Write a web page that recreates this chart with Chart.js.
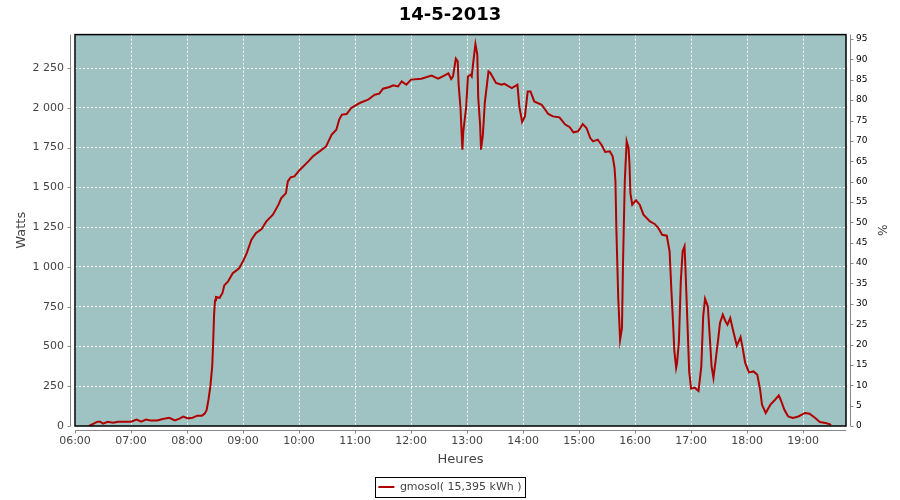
<!DOCTYPE html>
<html>
<head>
<meta charset="utf-8">
<script src="https://cdn.jsdelivr.net/npm/chart.js@4/dist/chart.umd.min.js"></script>
<style>
  html, body { margin: 0; padding: 0; background: #fff; }
  #wrap { width: 900px; height: 500px; }
</style>
</head>
<body>
<div id="wrap"><canvas id="graphe"></canvas></div>
<script>
// Production du 14-5-2013
const titre = '14-5-2013'
const nomSerie = 'gmosol( 15,395 kWh )'
const puissanceMax = 2560 // W pour 100 %

const heures = [
  '06:15','06:20','06:24','06:27','06:30','06:35','06:41','06:46','06:53','07:00',
  '07:06','07:11','07:16','07:21','07:28','07:34','07:41','07:47','07:52','07:56',
  '08:01','08:06','08:11','08:16','08:19','08:21','08:23','08:25','08:26','08:27',
  '08:28','08:29','08:30','08:31','08:35','08:38','08:40','08:44','08:49','08:53',
  '08:56','09:00','09:04','09:09','09:14','09:20','09:25','09:32','09:38','09:41',
  '09:46','09:48','09:51','09:55','10:01','10:10','10:15','10:22','10:29','10:35',
  '10:40','10:43','10:46','10:51','10:56','11:05','11:14','11:21','11:26','11:30',
  '11:37','11:41','11:46','11:50','11:55','12:00','12:11','12:22','12:29','12:34',
  '12:40','12:43','12:45','12:48','12:50','12:51','12:53','12:55','12:56','12:59',
  '13:01','13:04','13:05','13:07','13:09','13:11','13:12','13:14','13:15','13:17',
  '13:19','13:23','13:25','13:31','13:37','13:40','13:48','13:54','13:56','13:59',
  '14:02','14:05','14:08','14:12','14:20','14:27','14:32','14:39','14:45','14:50',
  '14:54','14:59','15:04','15:08','15:12','15:15','15:20','15:24','15:28','15:33',
  '15:36','15:38','15:39','15:40','15:42','15:44','15:46','15:47','15:49','15:51',
  '15:53','15:54','15:55','15:57','16:01','16:05','16:09','16:16','16:21','16:25',
  '16:29','16:34','16:37','16:39','16:41','16:42','16:44','16:45','16:47','16:49',
  '16:51','16:53','16:54','16:56','16:58','17:00','17:04','17:08','17:11','17:13',
  '17:15','17:18','17:20','17:22','17:24','17:26','17:29','17:31','17:34','17:37',
  '17:39','17:42','17:44','17:47','17:49','17:51','17:53','17:55','17:58','18:02',
  '18:07','18:11','18:14','18:16','18:20','18:25','18:30','18:34','18:36','18:40',
  '18:44','18:49','18:55','19:02','19:07','19:13','19:18','19:24','19:29','19:30'
]
const watts = [
  0,15,27,27,15,27,20,27,27,27,
  40,27,40,35,35,44,52,35,46,59,
  48,52,65,65,78,99,165,249,312,375,
  520,700,790,811,806,836,885,909,960,978,
  993,1035,1087,1171,1213,1238,1286,1328,1391,1433,
  1464,1537,1563,1569,1611,1663,1695,1726,1757,1831,
  1862,1925,1957,1961,1999,2030,2051,2082,2089,2120,
  2131,2141,2134,2166,2145,2177,2183,2202,2183,2198,
  2216,2181,2198,2309,2292,2145,1999,1737,1852,1999,
  2198,2208,2198,2302,2400,2334,2062,1894,1737,1831,
  2030,2229,2219,2156,2145,2151,2124,2145,2009,1911,
  1946,2103,2103,2040,2019,1961,1946,1940,1896,1878,
  1846,1852,1898,1873,1810,1789,1800,1768,1722,1726,
  1695,1622,1537,1234,805,542,616,993,1537,1789,
  1747,1653,1464,1391,1418,1391,1328,1286,1270,1244,
  1202,1196,1098,846,616,480,365,396,532,909,
  1098,1129,993,668,343,235,241,220,375,689,
  800,752,563,375,302,396,542,647,700,657,
  637,679,626,553,505,532,559,500,396,337,
  343,322,228,134,82,134,165,192,165,102,
  60,50,60,82,77,50,25,19,10,6
]

// bornes des axes
const debut = '06:00'
const fin = '19:46'
const wattsMax = 2460
const pasWatts = 250
const pasPourcent = 5
const pasMinutes = 60

const enMinutes = h => { const [hh, mm] = h.split(':').map(Number); return hh * 60 + mm }
const formatHeure = m => String(Math.floor(m / 60)).padStart(2, '0') + ':' + String(m % 60).padStart(2, '0')
const formatWatts = v => String(v).replace(/\B(?=(\d{3})+(?!\d))/g, ' ')

// graduations regulieres entre min et max
const graduations = (min, max, pas) => {
  const t = []
  for (let v = min; v <= max + 1e-9; v += pas) t.push({ value: v })
  return t
}

const points = heures.map((h, i) => ({ x: enMinutes(h), y: watts[i] }))

const couleurFond = 'rgb(159,195,194)'
const gris = '#888'
const texte = '#444'
const police = 'DejaVu Sans'

// fond du graphe, cadre noir, axes gris decales
const cadre = {
  id: 'cadre',
  beforeDraw(chart) {
    const { ctx, chartArea: a } = chart
    ctx.save()
    ctx.fillStyle = couleurFond
    ctx.fillRect(a.left, a.top, a.right - a.left, a.bottom - a.top)
    ctx.restore()
  },
  afterDraw(chart) {
    const { ctx, chartArea: a } = chart
    const sx = chart.scales.x, sy = chart.scales.y, sp = chart.scales.pct
    ctx.save()
    ctx.strokeStyle = '#000'
    ctx.lineWidth = 1.5
    ctx.strokeRect(a.left, a.top, a.right - a.left, a.bottom - a.top)

    ctx.strokeStyle = gris
    ctx.lineWidth = 1
    ctx.beginPath()
    ctx.moveTo(a.left - 4.5, a.top); ctx.lineTo(a.left - 4.5, a.bottom)
    ctx.moveTo(a.left, a.bottom + 4.5); ctx.lineTo(a.right, a.bottom + 4.5)
    ctx.moveTo(a.right + 4.5, a.top); ctx.lineTo(a.right + 4.5, a.bottom)
    sy.ticks.forEach(t => {
      const y = Math.round(sy.getPixelForValue(t.value)) + 0.5
      ctx.moveTo(a.left - 4.5, y); ctx.lineTo(a.left - 7.5, y)
    })
    sp.ticks.forEach(t => {
      const y = Math.round(sp.getPixelForValue(t.value)) + 0.5
      ctx.moveTo(a.right + 4.5, y); ctx.lineTo(a.right + 7.5, y)
    })
    sx.ticks.forEach(t => {
      const x = Math.round(sx.getPixelForValue(t.value)) + 0.5
      ctx.moveTo(x, a.bottom + 4.5); ctx.lineTo(x, a.bottom + 7.5)
    })
    ctx.stroke()

    // cadre de la legende
    const b = chart.legend.legendHitBoxes[0]
    if (b) {
      ctx.strokeStyle = '#000'
      ctx.lineWidth = 1
      const cy = b.top + b.height / 2
      ctx.strokeRect(Math.round(b.left - 3) + 0.5, Math.round(cy - 10) + 0.5, Math.round(b.width + 7), 20)
    }
    ctx.restore()
  }
}

new Chart(document.getElementById('graphe'), {
  type: 'line',
  data: {
    datasets: [{
      label: nomSerie,
      data: points,
      borderColor: '#b00000',
      backgroundColor: '#b00000',
      borderWidth: 2,
      pointRadius: 0,
      pointStyle: 'line',
      tension: 0,
      yAxisID: 'y'
    }]
  },
  options: {
    responsive: true,
    maintainAspectRatio: false,
    animation: false,
    layout: { padding: { top: 0, left: 0, right: 0, bottom: -2.5 } },
    plugins: {
      title: {
        display: true,
        text: titre,
        color: '#000',
        font: { family: police, size: 18, weight: 'bold' },
        padding: { top: 5, bottom: 8 }
      },
      legend: {
        position: 'bottom',
        labels: {
          color: texte,
          font: { family: police, size: 11 },
          usePointStyle: true,
          pointStyle: 'line',
          pointStyleWidth: 16,
          padding: 10
        }
      },
      tooltip: { enabled: false }
    },
    scales: {
      x: {
        type: 'linear',
        min: enMinutes(debut),
        max: enMinutes(fin),
        afterBuildTicks: s => { s.ticks = graduations(enMinutes(debut), enMinutes(fin), pasMinutes) },
        afterFit: s => { s.height = 45.5 },
        ticks: {
          color: texte,
          font: { family: police, size: 11 },
          padding: 9,
          maxRotation: 0,
          autoSkip: false,
          callback: v => formatHeure(v)
        },
        grid: { color: '#fff', drawTicks: false },
        border: { display: false, dash: [2, 2] },
        title: {
          display: true,
          text: 'Heures',
          color: texte,
          font: { family: police, size: 13 },
          padding: { top: 0, bottom: 4 }
        }
      },
      y: {
        position: 'left',
        min: 0,
        max: wattsMax,
        afterBuildTicks: s => { s.ticks = graduations(0, wattsMax, pasWatts) },
        afterFit: s => { s.width = 75 },
        ticks: {
          color: texte,
          font: { family: police, size: 11 },
          padding: 11,
          autoSkip: false,
          callback: v => formatWatts(v)
        },
        grid: { color: '#fff', drawTicks: false },
        border: { display: false, dash: [2, 2] },
        title: {
          display: true,
          text: 'Watts',
          color: texte,
          font: { family: police, size: 13 },
          padding: { top: 14 }
        }
      },
      pct: {
        position: 'right',
        min: 0,
        max: wattsMax / puissanceMax * 100,
        afterBuildTicks: s => { s.ticks = graduations(0, wattsMax / puissanceMax * 100, pasPourcent) },
        afterFit: s => { s.width = 54 },
        ticks: {
          color: '#000',
          font: { family: police, size: 9 },
          padding: 10,
          autoSkip: false
        },
        grid: { display: false, drawTicks: false },
        border: { display: false },
        title: {
          display: true,
          text: '%',
          color: texte,
          font: { family: police, size: 12 },
          padding: { top: 12 }
        }
      }
    }
  },
  plugins: [cadre]
})
</script>
</body>
</html>
